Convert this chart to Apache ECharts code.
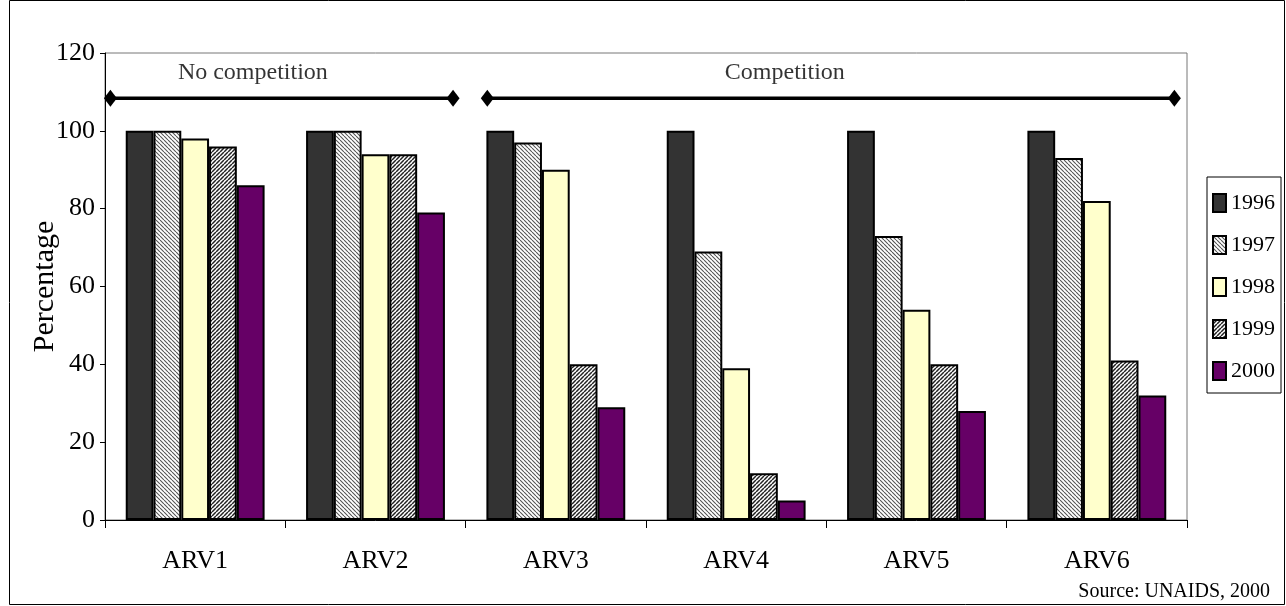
<!DOCTYPE html>
<html>
<head>
<meta charset="utf-8">
<script src="https://cdn.jsdelivr.net/npm/echarts@6/dist/echarts.min.js"></script>
<style>
html,body{margin:0;padding:0;background:#fff;}
#c{width:1286px;height:606px;}
</style>
</head>
<body>
<div id="c"></div>
<script>
// ---- data ----
const categories = ['ARV1','ARV2','ARV3','ARV4','ARV5','ARV6'];
const years = ['1996','1997','1998','1999','2000'];
const v1996 = [100, 100, 100, 100, 100, 100];
const v1997 = [100, 100, 97, 69, 73, 93];
const v1998 = [98, 94, 90, 39, 54, 82];
const v1999 = [96, 94, 40, 12, 40, 41];
const v2000 = [86, 79, 29, 5, 28, 32];
const yTicks = [0, 20, 40, 60, 80, 100, 120];
// annotation groups (positions in category-index units)
const groups = [
  {label: 'No competition', from: -0.47, to: 1.43, level: 108.4, labelX: 0.32},
  {label: 'Competition', from: 1.62, to: 5.43, level: 108.4, labelX: 3.27}
];
const labelLevel = 114.9;
const sourceText = 'Source: UNAIDS, 2000';

// ---- patterns ----
function hatch(dir, color, lw) {
  const s = 4;
  const c = document.createElement('canvas');
  c.width = s; c.height = s;
  const g = c.getContext('2d');
  g.fillStyle = '#fff'; g.fillRect(0, 0, s, s);
  g.strokeStyle = color; g.lineWidth = lw;
  g.beginPath();
  for (let k = -s; k <= s; k += s) {
    if (dir === 'back') { g.moveTo(k, 0); g.lineTo(k + s, s); }
    else { g.moveTo(k, s); g.lineTo(k + s, 0); }
  }
  g.stroke();
  return c;
}
const fills = [
  '#333333',
  {image: hatch('back', '#555', 1.1), repeat: 'repeat'},
  '#FFFFCC',
  {image: hatch('fwd', '#222', 1.5), repeat: 'repeat'},
  '#660066'
];
const seriesValues = [v1996, v1997, v1998, v1999, v2000];

const FONT = 'Liberation Serif';
const chart = echarts.init(document.getElementById('c'), null, {renderer: 'canvas'});

const series = years.map((y, i) => ({
  name: y,
  type: 'bar',
  data: seriesValues[i],
  barGap: '0%',
  barCategoryGap: '23%',
  itemStyle: {color: fills[i], borderColor: '#000', borderWidth: 2},
  emphasis: {disabled: true}
}));

groups.forEach(gr => {
  series.push({
    type: 'line',
    xAxisIndex: 1,
    yAxisIndex: 0,
    data: [[gr.from, gr.level], [gr.to, gr.level]],
    symbol: 'diamond',
    symbolSize: [13, 17],
    itemStyle: {color: '#000'},
    lineStyle: {color: '#000', width: 3.5},
    silent: true,
    z: 5
  });
});
series.push({
  type: 'scatter',
  xAxisIndex: 1,
  yAxisIndex: 0,
  symbolSize: 0,
  silent: true,
  data: groups.map(gr => ({value: [gr.labelX, labelLevel], name: gr.label})),
  label: {show: true, position: 'inside', formatter: '{b}', color: '#000', fontFamily: FONT, fontSize: 24}
});

chart.setOption({
  animation: false,
  backgroundColor: '#fff',
  grid: {left: 105, right: 99, top: 53, bottom: 86, show: true, borderColor: '#777', borderWidth: 1},
  legend: {
    data: years,
    orient: 'vertical',
    left: 1207, top: 177,
    icon: 'rect',
    itemWidth: 13, itemHeight: 18, itemGap: 20,
    padding: [15, 6, 11, 5],
    borderColor: '#000', borderWidth: 1,
    textStyle: {fontFamily: FONT, fontSize: 22, color: '#000'}
  },
  xAxis: [
    {
      type: 'category',
      data: categories,
      axisLine: {onZero: false, lineStyle: {color: '#000', width: 1}},
      axisTick: {show: true, length: 8, lineStyle: {color: '#000'}},
      axisLabel: {fontFamily: FONT, fontSize: 26, color: '#000', margin: 28, interval: 0}
    },
    {type: 'value', min: -0.5, max: 5.5, show: false, axisLine: {show: false, onZero: false}}
  ],
  yAxis: {
    type: 'value',
    min: yTicks[0], max: yTicks[yTicks.length - 1], interval: 20,
    name: 'Percentage',
    nameLocation: 'middle',
    nameRotate: 90,
    nameGap: 60,
    nameMoveOverlap: false,
    nameTextStyle: {fontFamily: FONT, fontSize: 30, color: '#000', verticalAlign: 'middle'},
    axisLine: {show: true, onZero: false, lineStyle: {color: '#000', width: 1}},
    axisTick: {show: true, length: 5, lineStyle: {color: '#000'}},
    splitLine: {show: false},
    axisLabel: {fontFamily: FONT, fontSize: 26, color: '#000', margin: 10}
  },
  graphic: [
    {type: 'rect', shape: {x: 9.5, y: 0.5, width: 1275, height: 604}, style: {fill: null, stroke: '#000', lineWidth: 1}, silent: true, z: -1},
    {type: 'text', right: 16, top: 582, style: {text: sourceText, fontFamily: FONT, fontSize: 20, fill: '#000'}}
  ],
  series: series
});
</script>
</body>
</html>
